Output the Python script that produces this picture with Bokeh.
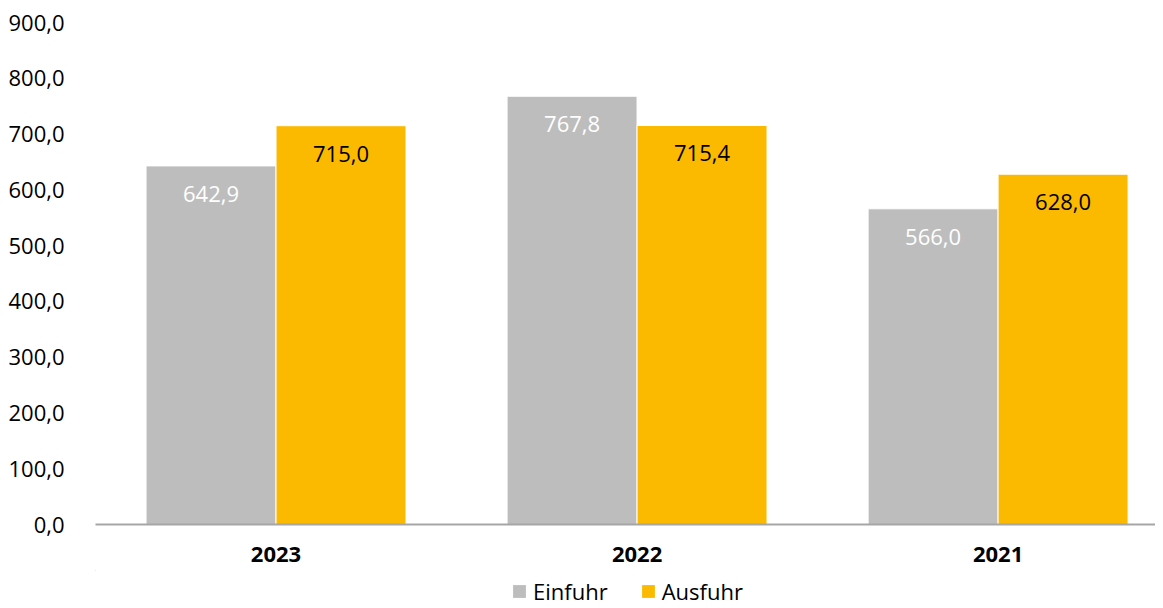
from bokeh.plotting import figure
from bokeh.layouts import column
from bokeh.models import Range1d, FixedTicker, Legend, LegendItem, ColumnDataSource
from bokeh.core.properties import value
from bokeh.embed import file_html
from bokeh.resources import INLINE

years = ["2023", "2022", "2021"]
einfuhr = [642.9, 767.8, 566.0]
ausfuhr = [715.0, 715.4, 628.0]
y_ticks = [0, 100, 200, 300, 400, 500, 600, 700, 800, 900]
series_names = ["Einfuhr", "Ausfuhr"]

FONT = "Open Sans"
GRAY = "#bdbdbd"
YELLOW = "#fbb900"

def fmt(v):
    return f"{v:.1f}".replace(".", ",")

centers = [i + 0.5 for i in range(len(years))]
bw = 0.36
src_e = ColumnDataSource(dict(x=[c - bw / 2 for c in centers], top=einfuhr,
                              lab=[fmt(v) for v in einfuhr]))
src_a = ColumnDataSource(dict(x=[c + bw / 2 for c in centers], top=ausfuhr,
                              lab=[fmt(v) for v in ausfuhr]))

p = figure(width=1155, height=570, output_backend="svg", toolbar_location=None,
           x_range=Range1d(0, 2.936), y_range=Range1d(0, 900),
           min_border_top=22, min_border_left=95, min_border_right=0,
           min_border_bottom=46)
p.outline_line_color = None
p.grid.visible = False
p.background_fill_color = "white"
p.border_fill_color = "white"

r_e = p.vbar(x="x", top="top", width=bw, bottom=0, source=src_e,
             fill_color=GRAY, line_color="white", line_width=1)
r_a = p.vbar(x="x", top="top", width=bw, bottom=0, source=src_a,
             fill_color=YELLOW, line_color="white", line_width=1)

p.text(x="x", y="top", text="lab", source=src_e, text_color="white",
       text_font=value(FONT), text_font_size="22px", text_align="center",
       text_baseline="middle", y_offset=28)
p.text(x="x", y="top", text="lab", source=src_a, text_color="black",
       text_font=value(FONT), text_font_size="22px", text_align="center",
       text_baseline="middle", y_offset=28)

# y axis
ya = p.yaxis[0]
ya.ticker = FixedTicker(ticks=y_ticks)
ya.major_label_overrides = {t: fmt(t) for t in y_ticks}
ya.axis_line_color = None
ya.major_tick_line_color = None
ya.minor_tick_line_color = None
ya.major_label_standoff = 25
ya.major_label_text_font = FONT
ya.major_label_text_font_size = "22px"
ya.major_label_text_color = "black"

# x axis
xa = p.xaxis[0]
xa.ticker = FixedTicker(ticks=centers)
xa.major_label_overrides = {c: y for c, y in zip(centers, years)}
xa.axis_line_color = "#a6a6a6"
xa.axis_line_width = 2
xa.major_tick_line_color = None
xa.minor_tick_line_color = None
xa.major_label_standoff = 16
xa.major_label_text_font = FONT
xa.major_label_text_font_size = "22px"
xa.major_label_text_font_style = "bold"
xa.major_label_text_color = "black"

# legend strip below the chart (its bars lie outside the visible ranges)
pl = figure(width=1155, height=36, output_backend="svg", toolbar_location=None,
            x_range=Range1d(100, 101), y_range=Range1d(-2000, -1000),
            x_axis_location=None, y_axis_location=None,
            min_border_top=0, min_border_bottom=0, min_border_right=0,
            min_border_left=95)
pl.outline_line_color = None
pl.grid.visible = False
le = pl.vbar(x="x", top="top", width=bw, bottom=0, source=src_e,
             fill_color=GRAY, line_color=None)
la = pl.vbar(x="x", top="top", width=bw, bottom=0, source=src_a,
             fill_color=YELLOW, line_color=None)
legend = Legend(items=[LegendItem(label=series_names[0], renderers=[le]),
                       LegendItem(label=series_names[1], renderers=[la])],
                orientation="horizontal", location=(416, 0),
                label_text_font=FONT, label_text_font_size="22px",
                label_text_color="black", glyph_width=16, glyph_height=16,
                label_standoff=6, spacing=32, padding=0, margin=0,
                border_line_color=None, background_fill_alpha=0)
pl.add_layout(legend, "center")

layout = column(p, pl, spacing=0)
open("out.html", "w").write(file_html(layout, INLINE))
